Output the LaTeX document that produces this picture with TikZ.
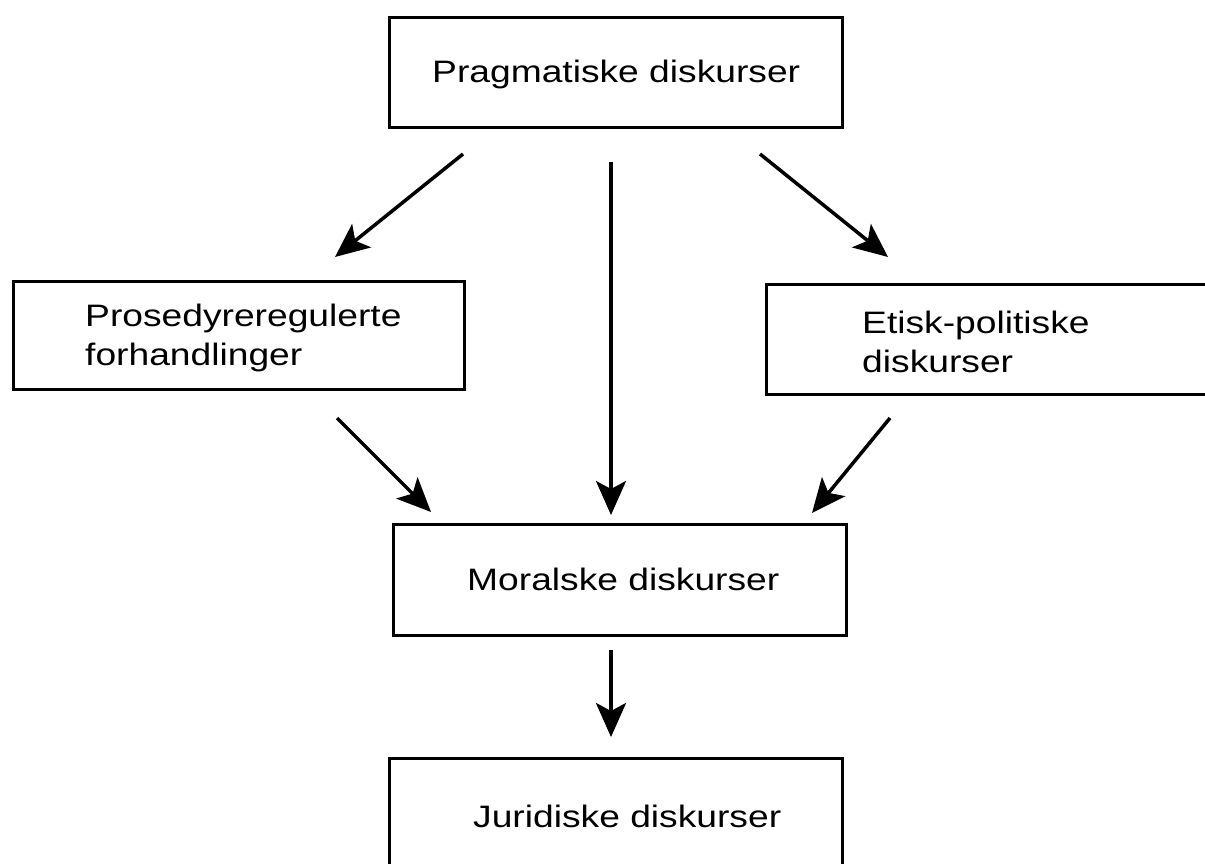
\documentclass[tikz,border=0pt]{standalone}
\usepackage{fontspec}
\setmainfont{Liberation Sans}[FakeStretch=1.2]
\usetikzlibrary{arrows.meta}
\begin{document}
\begin{tikzpicture}[x=1pt,y=-1pt,
  box/.style={draw, line width=3pt, rectangle, inner sep=0pt, anchor=north west},
  lbl/.style={inner sep=0pt, align=left, font=\fontsize{31}{39}\selectfont},
  arr/.style={line width=3.5pt, -{Stealth[length=34pt,width=30pt,inset=8pt]}}]
\useasboundingbox (0,0) rectangle (1205,864);
% boxes
\node[box, minimum width=453pt, minimum height=110pt] (prag) at (388,16) {};
\node[box, minimum width=451pt, minimum height=108pt] (pros) at (12,280) {};
\node[box, minimum width=460pt, minimum height=110pt] (etisk) at (765,283) {};
\node[box, minimum width=453pt, minimum height=111pt] (moral) at (392,523) {};
\node[box, minimum width=453pt, minimum height=125pt] (jur) at (388,757) {};
% labels
\node[lbl, anchor=base west] (pragT) at (432,83) {Pragmatiske diskurser};
\node[lbl, anchor=west] (prosT) at (85,338) {Prosedyreregulerte\\forhandlinger};
\node[lbl, anchor=west] (etiskT) at (862,342) {Etisk-politiske\\diskurser};
\node[lbl, anchor=base west] (moralT) at (467,590) {Moralske diskurser};
\node[lbl, anchor=base west] (jurT) at (473,827) {Juridiske diskurser};
% arrow ends
\coordinate (a1s) at (463,154); \coordinate (a1e) at (335,257);
\coordinate (a2s) at (611,162); \coordinate (a2e) at (611,515);
\coordinate (a3s) at (760,154); \coordinate (a3e) at (888,257);
\coordinate (a4s) at (337,418); \coordinate (a4e) at (431,512);
\coordinate (a5s) at (890,418); \coordinate (a5e) at (812,513);
\coordinate (a6s) at (611,650); \coordinate (a6e) at (611,737);
\draw[arr] (a1s) -- (a1e);
\draw[arr] (a2s) -- (a2e);
\draw[arr] (a3s) -- (a3e);
\draw[arr] (a4s) -- (a4e);
\draw[arr] (a5s) -- (a5e);
\draw[arr] (a6s) -- (a6e);
\end{tikzpicture}
\end{document}
